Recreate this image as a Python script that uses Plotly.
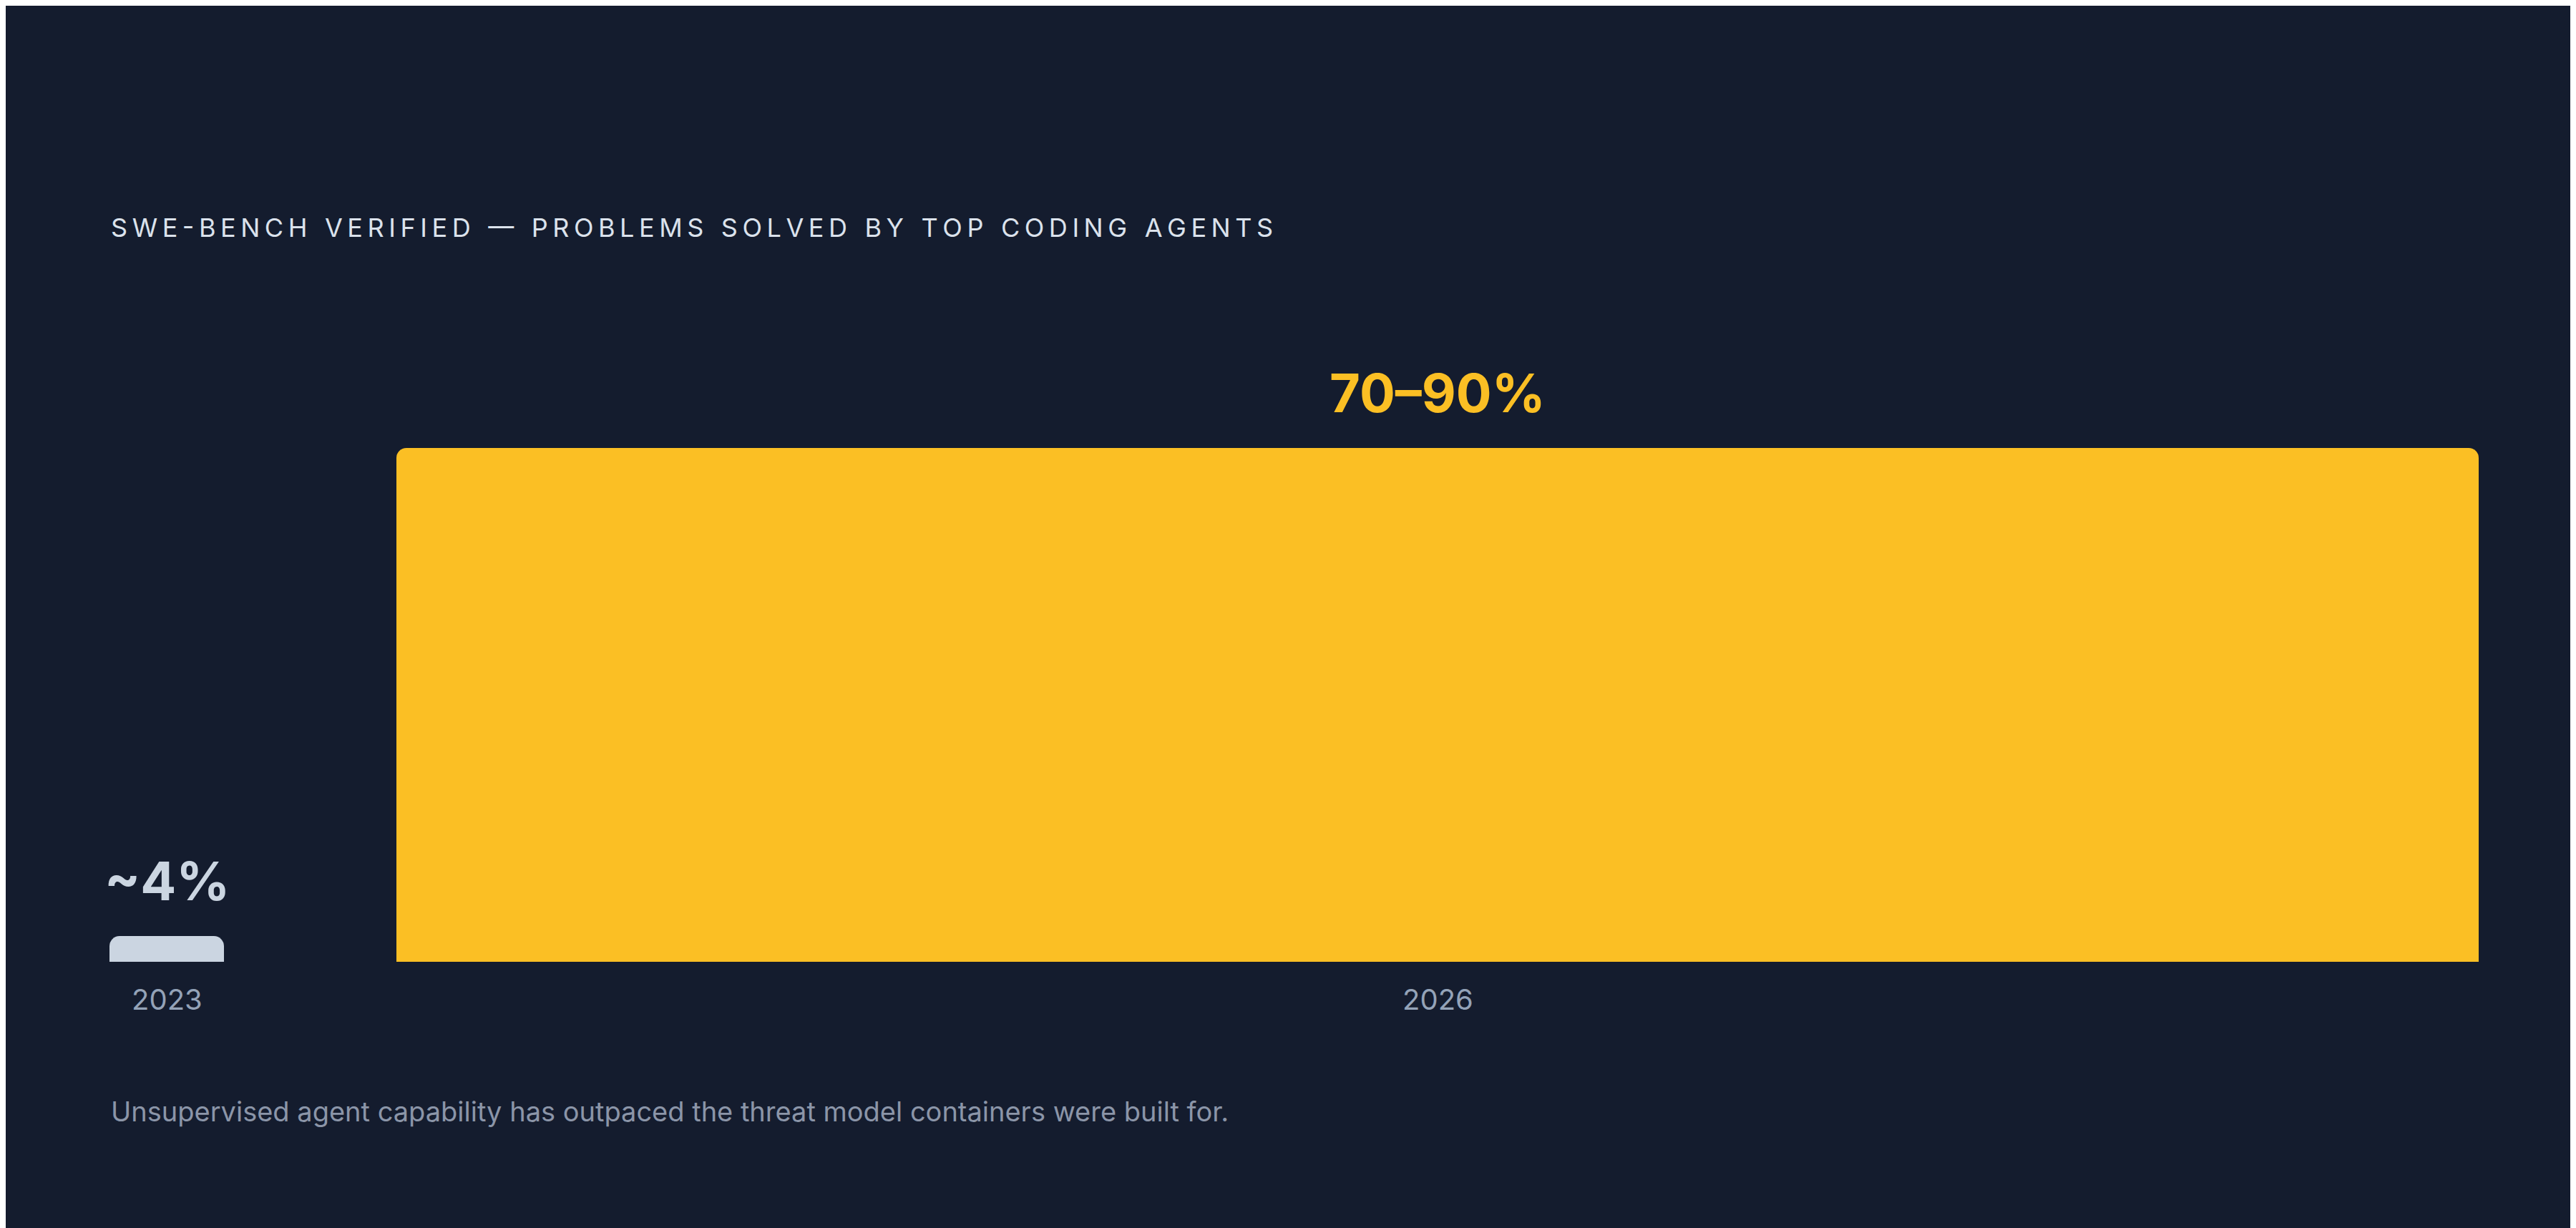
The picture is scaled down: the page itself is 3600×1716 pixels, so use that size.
import plotly.graph_objects as go

years = ["2023", "2026"]
values = [4, 80]
value_labels = ["~4%", "70–90%"]
title = "SWE-BENCH VERIFIED — PROBLEMS SOLVED BY TOP CODING AGENTS"
note = "Unsupervised agent capability has outpaced the threat model containers were built for."

# layout (pixel positions on a 0..3600 x axis)
centers = [225, 2001]
widths = [160, 2910]
colors = ["#cbd5e1", "#fbbf24"]
label_colors = ["#cbd5e1", "#fbbf24"]
BG = "#141c2e"
W, H = 3600, 1716
bottom = 1336

fig = go.Figure(go.Bar(x=centers, y=values, width=widths, marker=dict(color=colors, line=dict(width=0)),
                       hoverinfo="skip"))
ymax = 80 * bottom / 718
fig.update_layout(
    width=W, height=H, paper_bgcolor=BG, plot_bgcolor=BG,
    margin=dict(l=0, r=0, t=0, b=H - bottom),
    barcornerradius=14, showlegend=False,
    xaxis=dict(range=[0, W], visible=False, fixedrange=True),
    yaxis=dict(range=[0, ymax], visible=False, fixedrange=True),
    font=dict(family="Inter, Noto Sans, sans-serif"),
)
spaced = "\u2009".join(list(title)).replace("\u2009 \u2009", "\u2002\u2009")
anns = [
    dict(xref="paper", yref="paper", x=145 / W, y=1 - 310 / bottom, text=spaced, showarrow=False,
         xanchor="left", yanchor="middle", font=dict(size=36, color="#dbe2ec")),
    dict(xref="paper", yref="paper", x=145 / W, y=1 - 1545 / bottom, text=note, showarrow=False,
         xanchor="left", yanchor="middle", font=dict(size=38, color="#8b95a8")),
]
for c, v, lab, col, yr in zip(centers, values, value_labels, label_colors, years):
    anns.append(dict(x=c, y=v, text=f"<b>{lab}</b>", showarrow=False, yanchor="bottom", yshift=30,
                     font=dict(size=74, color=col)))
    anns.append(dict(x=c, y=0, text=yr, showarrow=False, yanchor="top", yshift=-26,
                     font=dict(size=40, color="#94a3b8")))
fig.update_layout(annotations=anns)
fig.write_html("out.html")
